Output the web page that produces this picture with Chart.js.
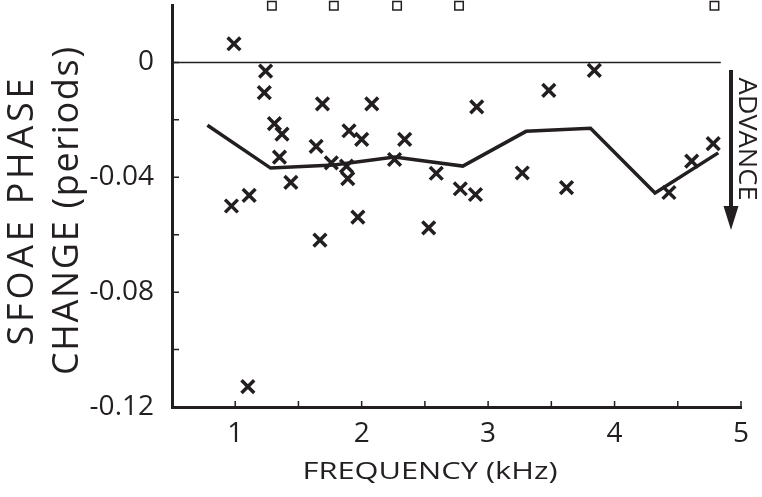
<!DOCTYPE html>
<html>
<head>
<meta charset="utf-8">
<script src="https://cdn.jsdelivr.net/npm/chart.js@4.4.0/dist/chart.umd.min.js"></script>
<style>
  html, body { margin: 0; padding: 0; background: #fff; }
  canvas { display: block; }
</style>
</head>
<body>
<canvas id="phaseChart" width="762" height="497"></canvas>
<script>
// SFOAE phase change vs frequency
const crossX = [0.99, 1.24, 1.23, 1.69, 2.08, 1.31, 1.37, 1.90, 2.00, 2.34, 1.64, 1.35, 1.76, 1.88, 1.89, 2.26, 1.44,
    2.59, 1.11, 2.78, 0.97, 1.67, 1.97, 2.53, 1.10, 3.84, 3.48, 2.91, 3.27, 2.90, 3.62, 4.43, 4.61, 4.78];
const crossY = [0.0065, -0.0030, -0.0105, -0.0144, -0.0144, -0.0213, -0.0250, -0.0238, -0.0268, -0.0268, -0.0292,
    -0.0330, -0.0350, -0.0361, -0.0405, -0.0338, -0.0418, -0.0386, -0.0463, -0.0440, -0.0500, -0.0619, -0.0539,
    -0.0576, -0.1129, -0.0028, -0.0097, -0.0155, -0.0385, -0.0460, -0.0436, -0.0453, -0.0344, -0.0283];

const meanX = [0.78, 1.28, 1.78, 2.26, 2.80, 3.30, 3.81, 4.32, 4.82];
const meanY = [-0.0219, -0.0368, -0.0357, -0.0329, -0.0361, -0.0240, -0.0229, -0.0455, -0.0315];

const squareX = [1.29, 1.78, 2.28, 2.77, 4.79];
const squareY = [0.0197, 0.0197, 0.0197, 0.0197, 0.0197];

const zeroX = [0.5, 4.84];
const zeroY = [0, 0];

const xTicks = [1, 1.5, 2, 2.5, 3, 3.5, 4, 4.5, 5];
const xTickLabels = ["1", "", "2", "", "3", "", "4", "", "5"];
const yTicks = [-0.12, -0.1, -0.08, -0.06, -0.04, -0.02, 0];
const yTickLabels = ["-0.12", "", "-0.08", "", "-0.04", "", "0"];

const ink = "#231f20";
const fontFam = "'Open Sans', sans-serif";

const toPts = (xs, ys) => xs.map((x, i) => ({x: x, y: ys[i]}));

// draws text centred on (x, y) baseline, fitted to width w
// mode "space" spreads letters, mode "stretch" scales along the text
function fitText(ctx, txt, x, y, size, rot, w, mode) {
    ctx.save();
    ctx.translate(x, y);
    ctx.rotate(rot);
    ctx.font = size + "px " + fontFam;
    ctx.fillStyle = ink;
    ctx.textBaseline = "alphabetic";
    ctx.textAlign = "left";
    const natural = ctx.measureText(txt).width;
    if (mode === "space" && natural < w) {
        const gap = (w - natural) / (txt.length - 1);
        let cx = -w / 2;
        for (const ch of txt) {
            ctx.fillText(ch, cx, 0);
            cx += ctx.measureText(ch).width + gap;
        }
    } else {
        ctx.scale(w / natural, 1);
        ctx.fillText(txt, -natural / 2, 0);
    }
    ctx.restore();
}

const decorations = {
    id: "decorations",
    afterDatasetsDraw(chart) {
        const ctx = chart.ctx;
        const area = chart.chartArea;
        const xs = chart.scales.x, ys = chart.scales.y;

        // inward tick marks
        ctx.save();
        ctx.strokeStyle = ink;
        ctx.lineWidth = 1.5;
        ctx.beginPath();
        yTicks.forEach(v => {
            const py = ys.getPixelForValue(v);
            ctx.moveTo(area.left, py);
            ctx.lineTo(area.left + 7, py);
        });
        xTicks.forEach(v => {
            const px = xs.getPixelForValue(v);
            ctx.moveTo(px, area.bottom);
            ctx.lineTo(px, area.bottom - 6);
        });
        ctx.stroke();

        // ADVANCE arrow
        ctx.lineWidth = 4;
        ctx.beginPath();
        ctx.moveTo(731, 70);
        ctx.lineTo(731, 210);
        ctx.stroke();
        ctx.fillStyle = ink;
        ctx.beginPath();
        ctx.moveTo(723.5, 206);
        ctx.lineTo(738.5, 206);
        ctx.lineTo(731, 230);
        ctx.closePath();
        ctx.fill();
        ctx.restore();

        fitText(ctx, "ADVANCE", 739, 139, 26, Math.PI / 2, 123, "stretch");

        // axis titles
        fitText(ctx, "SFOAE PHASE", 33, 212, 36, -Math.PI / 2, 267, "space");
        fitText(ctx, "CHANGE (periods)", 78, 211, 36, -Math.PI / 2, 328, "space");
        fitText(ctx, "FREQUENCY (kHz)", 430, 479, 24, 0, 255, "stretch");
    }
};

new Chart(document.getElementById("phaseChart"), {
    type: "scatter",
    data: {
        datasets: [
            {
                label: "zero",
                data: toPts(zeroX, zeroY),
                showLine: true,
                borderColor: ink,
                borderWidth: 1.5,
                pointRadius: 0,
            },
            {
                label: "mean",
                data: toPts(meanX, meanY),
                showLine: true,
                borderColor: ink,
                borderWidth: 3.5,
                pointRadius: 0,
            },
            {
                label: "measurements",
                data: toPts(crossX, crossY),
                pointStyle: "crossRot",
                pointRadius: 9,
                borderColor: ink,
                borderWidth: 3.5,
            },
            {
                label: "off scale",
                data: toPts(squareX, squareY),
                pointStyle: "rect",
                pointRadius: 6,
                borderColor: ink,
                backgroundColor: "#fff",
                borderWidth: 1.5,
                clip: false,
            },
        ],
    },
    options: {
        responsive: false,
        animation: false,
        devicePixelRatio: 1,
        layout: { autoPadding: false, padding: { top: 5, right: 21, left: 0, bottom: 0 } },
        plugins: {
            legend: { display: false },
            tooltip: { enabled: false },
        },
        scales: {
            x: {
                type: "linear",
                min: 0.5,
                max: 5,
                afterBuildTicks: (scale) => { scale.ticks = xTicks.map(v => ({value: v})); },
                afterFit: (scale) => {
                    scale.height = 90;
                    scale.paddingLeft = 0;
                    scale.paddingRight = 0;
                },
                grid: { display: false },
                border: { display: true, color: ink, width: 3 },
                ticks: {
                    color: ink,
                    padding: 2,
                    maxRotation: 0,
                    autoSkip: false,
                    font: { family: fontFam, size: 28 },
                    callback: (v, i) => xTickLabels[i],
                },
            },
            y: {
                type: "linear",
                min: -0.12,
                max: 0.02,
                afterBuildTicks: (scale) => { scale.ticks = yTicks.map(v => ({value: v})); },
                afterFit: (scale) => {
                    scale.width = 172;
                    scale.paddingTop = 0;
                    scale.paddingBottom = 0;
                },
                grid: { display: false },
                border: { display: true, color: ink, width: 3 },
                ticks: {
                    color: ink,
                    padding: 10,
                    autoSkip: false,
                    font: { family: fontFam, size: 28 },
                    callback: (v, i) => yTickLabels[i],
                },
            },
        },
    },
    plugins: [decorations],
});
</script>
</body>
</html>
